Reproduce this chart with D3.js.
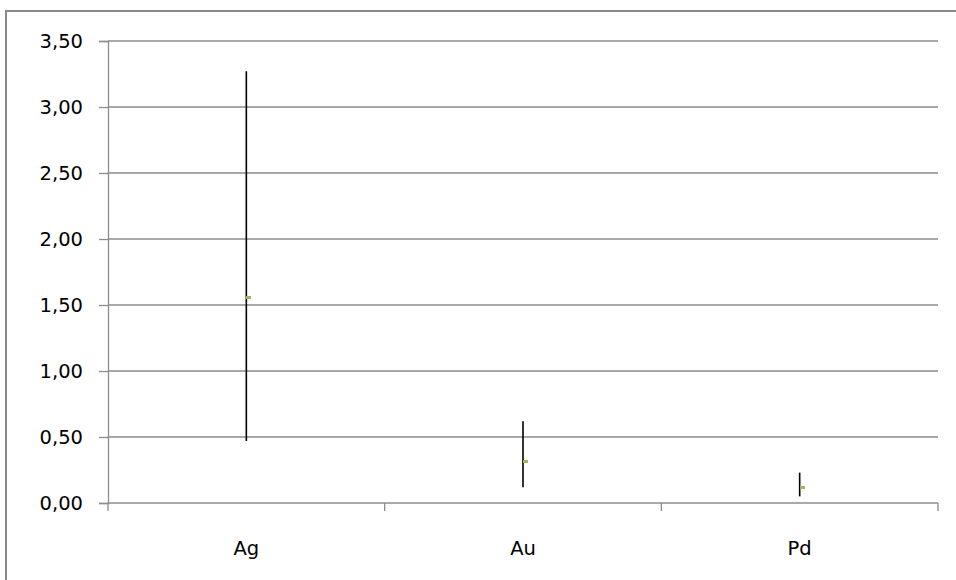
<!DOCTYPE html>
<html>
<head>
<meta charset="utf-8">
<script src="https://cdn.jsdelivr.net/npm/d3@7"></script>
<style>
  html, body { margin: 0; background: #fff; overflow: hidden; }
  svg { display: block; }
</style>
</head>
<body>
<div id="chart"></div>
<script>
// datos
const categories = ["Ag", "Au", "Pd"];
const highValues = [3.27, 0.62, 0.23];
const lowValues = [0.47, 0.12, 0.05];
const meanValues = [1.56, 0.32, 0.12];
const yTicks = [0, 0.5, 1, 1.5, 2, 2.5, 3, 3.5];

const data = categories.map((c, i) => ({
  category: c, high: highValues[i], low: lowValues[i], mean: meanValues[i]
}));

const svgWidth = 956, svgHeight = 580;
const margin = { top: 41, right: 18, bottom: 77, left: 108 };
const width = svgWidth - margin.left - margin.right;
const height = svgHeight - margin.top - margin.bottom;

const root = d3.select("#chart").append("svg")
  .attr("width", svgWidth)
  .attr("height", svgHeight);

// marco exterior (solo se ven el lado izquierdo y el de arriba)
root.append("line")
  .attr("x1", 6).attr("x2", svgWidth)
  .attr("y1", 11).attr("y2", 11)
  .attr("stroke", "#888").attr("stroke-width", 2);
root.append("line")
  .attr("x1", 6).attr("x2", 6)
  .attr("y1", 10).attr("y2", svgHeight)
  .attr("stroke", "#888").attr("stroke-width", 2);

const svg = root.append("g")
  .attr("transform", `translate(${margin.left}, ${margin.top})`);

const x = d3.scaleBand()
  .domain(categories)
  .range([0, width])
  .padding(0);

const y = d3.scaleLinear()
  .domain([0, 3.5])
  .range([height, 0]);

const font = "'DejaVu Sans', sans-serif";
const fontSize = 19.5;

// lineas de cuadricula
svg.append("g")
  .selectAll("line")
  .data(yTicks.slice(1))
  .enter().append("line")
  .attr("x1", 0).attr("x2", width)
  .attr("y1", d => y(d)).attr("y2", d => y(d))
  .attr("stroke", "#8c8c8c")
  .attr("stroke-width", 1.3);

// eje y
const yAxis = svg.append("g")
  .call(d3.axisLeft(y).tickValues(yTicks).tickSize(9).tickPadding(16)
    .tickFormat(d => d3.format(".2f")(d).replace(".", ",")));
yAxis.select(".domain").attr("stroke", "#8c8c8c").attr("stroke-width", 1.3);
yAxis.selectAll(".tick line").attr("stroke", "#8c8c8c").attr("stroke-width", 1.3);
yAxis.selectAll("text")
  .attr("font-size", fontSize)
  .attr("font-family", font)
  .attr("fill", "#000");

// eje x
const boundaries = categories.map(c => x(c)).concat([width]);
const xAxis = svg.append("g")
  .attr("transform", `translate(0, ${height})`);
xAxis.append("line")
  .attr("x1", 0).attr("x2", width)
  .attr("stroke", "#8c8c8c").attr("stroke-width", 1.3);
xAxis.selectAll(".xtick")
  .data(boundaries)
  .enter().append("line")
  .attr("x1", d => d).attr("x2", d => d)
  .attr("y1", 0).attr("y2", 8)
  .attr("stroke", "#8c8c8c").attr("stroke-width", 1.3);
xAxis.selectAll(".xlabel")
  .data(categories)
  .enter().append("text")
  .attr("x", d => x(d) + x.bandwidth() / 2)
  .attr("y", 52)
  .attr("text-anchor", "middle")
  .attr("font-size", fontSize)
  .attr("font-family", font)
  .attr("fill", "#000")
  .text(d => d);

// barras de error (alto-bajo)
svg.selectAll(".hilo")
  .data(data)
  .enter().append("line")
  .attr("x1", d => x(d.category) + x.bandwidth() / 2)
  .attr("x2", d => x(d.category) + x.bandwidth() / 2)
  .attr("y1", d => y(d.high))
  .attr("y2", d => y(d.low))
  .attr("stroke", "#000")
  .attr("stroke-width", 1.6);

// marcador de media
svg.selectAll(".mean")
  .data(data)
  .enter().append("rect")
  .attr("x", d => Math.round(x(d.category) + x.bandwidth() / 2))
  .attr("y", d => Math.round(y(d.mean)) - 1)
  .attr("width", 5)
  .attr("height", 3)
  .attr("fill", "#9bbb59");
</script>
</body>
</html>
